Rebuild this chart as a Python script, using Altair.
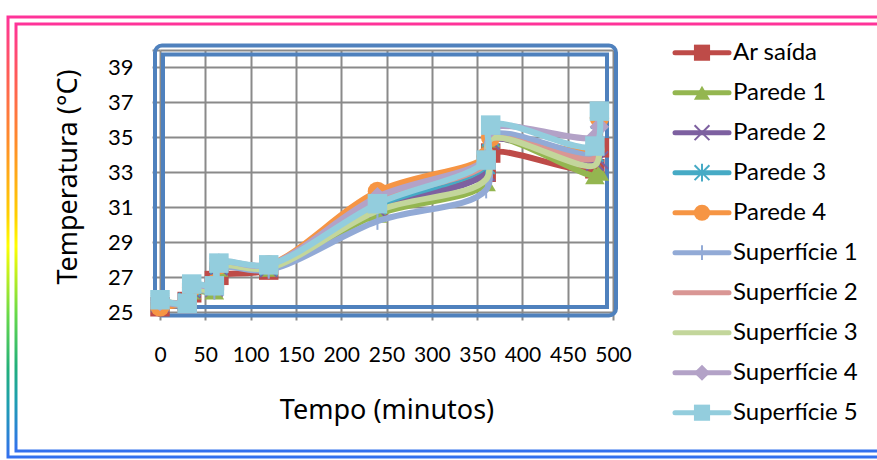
import altair as alt
import pandas as pd

# ---------------- data ----------------
TIME = [0, 30, 35, 60, 65, 120, 240, 360, 365, 480, 485]
SERIES = ["Ar saída", "Parede 1", "Parede 2", "Parede 3", "Parede 4",
          "Superfície 1", "Superfície 2", "Superfície 3", "Superfície 4", "Superfície 5"]

AR_SAIDA = [25.3, 25.6, 26.1, 26.8, 27.1, 27.4, 30.9, 33.0, 34.1, 33.2, 34.4]
PAREDE_1 = [25.5, 25.6, 26.2, 26.2, 27.5, 27.5, 30.6, 32.4, 34.9, 32.8, 33.0]
PAREDE_2 = [25.5, 25.6, 26.3, 26.4, 27.6, 27.5, 30.9, 33.0, 34.8, 33.6, 33.7]
PAREDE_3 = [25.6, 25.6, 26.4, 26.5, 27.7, 27.6, 31.1, 33.4, 35.0, 34.1, 36.0]
PAREDE_4 = [25.3, 25.6, 26.4, 26.6, 27.7, 27.7, 31.9, 33.9, 35.0, 34.3, 36.1]
SUPERFICIE_1 = [25.6, 25.5, 26.3, 26.2, 27.5, 27.4, 30.2, 32.0, 35.1, 34.0, 34.6]
SUPERFICIE_2 = [25.6, 25.6, 26.4, 26.5, 27.7, 27.6, 31.3, 33.5, 34.9, 33.8, 35.0]
SUPERFICIE_3 = [25.6, 25.6, 26.3, 26.3, 27.6, 27.5, 30.8, 32.6, 34.9, 33.4, 34.6]
SUPERFICIE_4 = [25.6, 25.6, 26.5, 26.5, 27.8, 27.7, 31.6, 33.8, 35.5, 35.0, 35.6]
SUPERFICIE_5 = [25.7, 25.5, 26.6, 26.5, 27.8, 27.7, 31.2, 33.7, 35.7, 34.5, 36.5]

VALUES = [AR_SAIDA, PAREDE_1, PAREDE_2, PAREDE_3, PAREDE_4,
          SUPERFICIE_1, SUPERFICIE_2, SUPERFICIE_3, SUPERFICIE_4, SUPERFICIE_5]

Y_TICKS = [25, 27, 29, 31, 33, 35, 37, 39, 40]
X_TICKS = [0, 50, 100, 150, 200, 250, 300, 350, 400, 450, 500]

# ---------------- styles ----------------
COLORS = ["#BE4B48", "#94B650", "#7D60A0", "#46AAC5", "#F69544",
          "#92AAD6", "#D99694", "#C3D69B", "#B3A2C7", "#93CDDD"]
X_PATH = "M-1,-1L1,1M-1,1L1,-1"
STAR_PATH = "M-1,-1L1,1M-1,1L1,-1M0,-1.2L0,1.2"
PLUS_PATH = "M0,-1L0,1"
MARKERS = [("square", True), ("triangle-up", True), (X_PATH, False), (STAR_PATH, False),
           ("circle", True), (PLUS_PATH, False), (None, None), (None, None),
           ("diamond", True), ("square", True)]

rows = []
for name, vals in zip(SERIES, VALUES):
    for t, v in zip(TIME, vals):
        rows.append({"serie": name, "t": t, "temp": v})
df = pd.DataFrame(rows)

leg = pd.DataFrame({"serie": SERIES, "i": list(range(len(SERIES)))})
one = pd.DataFrame({"a": [0]})

W, H = 453, 262
LEFT, TOP = 160, 50
FONT = "Lato"
TITLE_FONT = "Noto Sans"

x_scale = alt.Scale(domain=[0, 500], nice=False, zero=False)
y_scale = alt.Scale(domain=[25, 40], nice=False, zero=False)

x_axis = alt.Axis(values=X_TICKS, grid=True, gridColor="#8A8A8A", gridWidth=2,
                  ticks=True, tickColor="#8A8A8A", tickWidth=2, tickSize=8,
                  domain=False, labelFont=FONT, labelFontSize=21, labelColor="#000000",
                  labelPadding=24, labelFlush=False, labelOverlap=False, title=None)
y_axis = alt.Axis(values=Y_TICKS, grid=True, gridColor="#8A8A8A", gridWidth=2,
                  ticks=True, tickColor="#8A8A8A", tickWidth=2, tickSize=8,
                  domain=False, labelFont=FONT, labelFontSize=22, labelColor="#000000",
                  labelPadding=19, labelFlush=False, labelOverlap=False, title=None,
                  labelExpr="datum.value == 40 ? '' : datum.label")

X_ENC = alt.X("t:Q", scale=x_scale, axis=x_axis)
Y_ENC = alt.Y("temp:Q", scale=y_scale, axis=y_axis)

# axes / grid carrier (invisible)
base = alt.Chart(df).mark_point(opacity=0).encode(x=X_ENC, y=Y_ENC)

# outer decorative double frame (gradient)
grad = alt.LinearGradient(
    gradient="linear", x1=0, x2=0, y1=0, y2=1,
    stops=[alt.GradientStop(color="#FF3399", offset=0.0),
           alt.GradientStop(color="#FF5A5A", offset=0.12),
           alt.GradientStop(color="#FF8C2A", offset=0.28),
           alt.GradientStop(color="#FFD000", offset=0.45),
           alt.GradientStop(color="#FFFF00", offset=0.52),
           alt.GradientStop(color="#66D94A", offset=0.68),
           alt.GradientStop(color="#22B07A", offset=0.8),
           alt.GradientStop(color="#1E9FB0", offset=0.88),
           alt.GradientStop(color="#3370EE", offset=1.0)])

frame_outer = alt.Chart(one).mark_rect(filled=False, stroke=grad, strokeWidth=3).encode(
    x=alt.value(8 - LEFT), x2=alt.value(900 - LEFT),
    y=alt.value(17 - TOP), y2=alt.value(457 - TOP))
frame_inner = alt.Chart(one).mark_rect(filled=False, stroke=grad, strokeWidth=3).encode(
    x=alt.value(16 - LEFT), x2=alt.value(900 - LEFT),
    y=alt.value(24 - TOP), y2=alt.value(451 - TOP))

# blue plot-area borders
blue_outer = alt.Chart(one).mark_rect(filled=False, stroke="#4F81BD", strokeWidth=4,
                                      cornerRadius=7).encode(
    x=alt.value(-5), x2=alt.value(W + 3), y=alt.value(-4.5), y2=alt.value(H + 3.5))
blue_inner = alt.Chart(one).mark_rect(filled=False, stroke="#4F81BD", strokeWidth=4).encode(
    x=alt.value(3), x2=alt.value(W - 6), y=alt.value(4.5), y2=alt.value(H - 5))

layers = [frame_outer, frame_inner, base, blue_outer, blue_inner]

for name, color, (shape, filled) in zip(SERIES, COLORS, MARKERS):
    sub = alt.Chart(df).transform_filter(alt.datum.serie == name)
    layers.append(sub.mark_line(color=color, strokeWidth=6, interpolate="catmull-rom",
                                strokeCap="round", strokeJoin="round").encode(
        x=X_ENC, y=Y_ENC, order="t:Q"))
    if shape is not None:
        if filled:
            pt = sub.mark_point(shape=shape, filled=True, color=color, size=380, opacity=1)
        else:
            pt = sub.mark_point(shape=shape, filled=False, color=color, size=300,
                                strokeWidth=2, opacity=1)
        layers.append(pt.encode(x=X_ENC, y=Y_ENC))

# manual legend
LEG_X0, LEG_X1, LEG_XM, LEG_XT = 675 - LEFT, 729 - LEFT, 702 - LEFT, 733 - LEFT
color_scale = alt.Scale(domain=SERIES, range=COLORS)
leg_base = alt.Chart(leg).transform_calculate(py="2.7 + datum.i * 40")
layers.append(leg_base.mark_rule(strokeWidth=5, strokeCap="round").encode(
    x=alt.value(LEG_X0), x2=alt.value(LEG_X1),
    y=alt.Y("py:Q", scale=None, axis=None),
    color=alt.Color("serie:N", scale=color_scale, legend=None)))
for name, color, (shape, filled) in zip(SERIES, COLORS, MARKERS):
    if shape is None:
        continue
    sub = leg_base.transform_filter(alt.datum.serie == name)
    if filled:
        pt = sub.mark_point(shape=shape, filled=True, color=color, size=260, opacity=1)
    else:
        pt = sub.mark_point(shape=shape, filled=False, color=color, size=220,
                            strokeWidth=2, opacity=1)
    layers.append(pt.encode(x=alt.value(LEG_XM), y=alt.Y("py:Q", scale=None, axis=None)))
layers.append(leg_base.mark_text(align="left", baseline="middle", font=FONT, fontSize=24,
                                 color="#000000").encode(
    x=alt.value(LEG_XT), y=alt.Y("py:Q", scale=None, axis=None), text="serie:N"))

# axis titles
layers.append(alt.Chart(one).mark_text(text="Temperatura (°C)", angle=270, font=TITLE_FONT,
                                       fontSize=27, align="center", baseline="middle",
                                       color="#000000").encode(
    x=alt.value(69 - LEFT), y=alt.value(177 - TOP)))
layers.append(alt.Chart(one).mark_text(text="Tempo (minutos)", font=TITLE_FONT, fontSize=27,
                                       align="center", baseline="middle",
                                       color="#000000").encode(
    x=alt.value(387 - LEFT), y=alt.value(411 - TOP)))

chart = alt.layer(*layers).properties(
    width=W, height=H,
    padding={"left": LEFT, "top": TOP, "right": 877 - LEFT - W, "bottom": 460 - TOP - H},
    autosize=alt.AutoSizeParams(type="none"),
    background="#FFFFFF",
).configure_view(strokeWidth=0).configure_axis(labelOverlap=False)

chart.save("out.html", embed_options={"renderer": "svg", "actions": False})
